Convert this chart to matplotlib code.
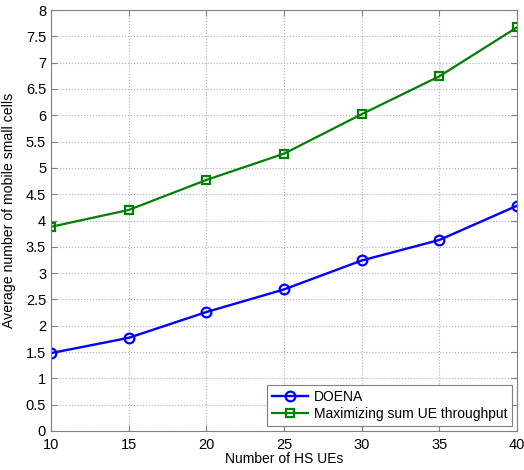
import matplotlib
matplotlib.use('Agg')
import matplotlib.pyplot as plt
import numpy as np

# Data
num_hs_ues = [10, 15, 20, 25, 30, 35, 40]
doena = [1.48, 1.77, 2.26, 2.69, 3.24, 3.63, 4.28]
max_sum_tput = [3.88, 4.20, 4.77, 5.27, 6.02, 6.74, 7.67]

plt.rcParams['font.family'] = ['Liberation Sans', 'DejaVu Sans']

fig = plt.figure(figsize=(5.24, 4.70), dpi=100)
ax = fig.add_axes([0.0973, 0.083, 0.8893, 0.8957])

ax.plot(num_hs_ues, doena, color='#0000ff', marker='o', markersize=7,
        markerfacecolor='none', markeredgewidth=1.6, linewidth=1.7, label='DOENA')
ax.plot(num_hs_ues, max_sum_tput, color='#008000', marker='s', markersize=6,
        markerfacecolor='none', markeredgewidth=1.6, linewidth=1.6,
        label='Maximizing sum UE throughput')

ax.set_xlim(10, 40)
ax.set_ylim(0, 8)
ax.set_xticks(np.arange(10, 41, 5))
ax.set_yticks(np.arange(0, 8.01, 0.5))
ax.set_yticklabels([f'{v:g}' for v in np.arange(0, 8.01, 0.5)])
ax.tick_params(direction='in', labelsize=10.5, length=4, top=True, right=True,
               colors='#808080', labelcolor='black')
ax.tick_params(axis='x', pad=5)
ax.grid(True, linestyle=':', color='#b0b0b0', linewidth=0.8)

for s in ax.spines.values():
    s.set_color('#808080')

ax.set_xlabel('Number of HS UEs', fontsize=10, labelpad=0)
ax.set_ylabel('Average number of mobile small cells', fontsize=10.2, labelpad=2)
ax.yaxis.set_label_coords(-0.075, 0.525)

leg = ax.legend(loc='lower right', fontsize=10, fancybox=False, framealpha=1,
                edgecolor='#808080', borderaxespad=0.35, handlelength=2.6,
                handletextpad=0.4, borderpad=0.35, labelspacing=0.25)
leg.get_frame().set_linewidth(0.8)

fig.savefig('out.png', dpi=100)
